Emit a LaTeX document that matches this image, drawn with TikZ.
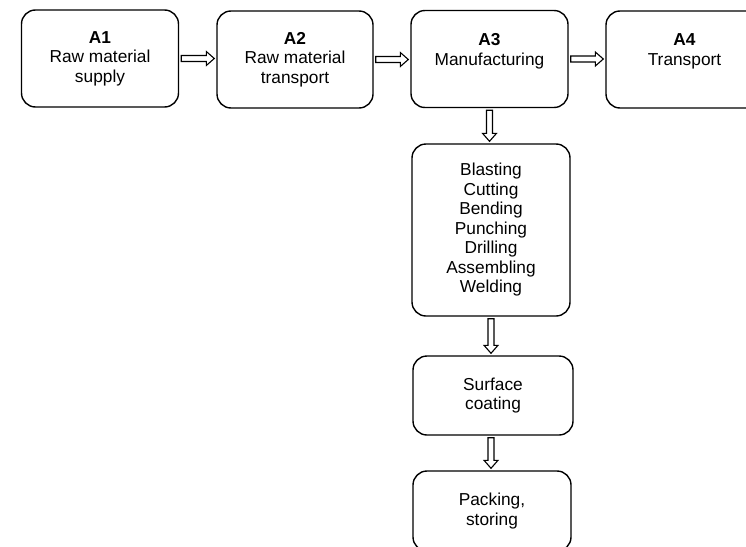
\documentclass[tikz,border=0pt]{standalone}
\usepackage{fontspec}
\setmainfont{Liberation Sans}
\usetikzlibrary{calc,positioning}

\tikzset{
  stage/.style={draw,line width=1.4pt,rounded corners=14pt,align=center,
    minimum width=157pt,minimum height=97pt,
    font=\fontsize{17.3}{19.5}\selectfont},
  % hollow block arrow between two anchors
  flow/.style={line width=1.1pt,line join=miter,to path={
    ($(\tikztostart)!2pt!(\tikztotarget)$) coordinate (fs)
    ($(\tikztotarget)!2pt!(\tikztostart)$) coordinate (ft)
    ($(ft)!8pt!(fs)$) coordinate (hb)
    ($(fs)!3pt!90:(ft)$) -- ($(hb)!3pt!-90:(fs)$) -- ($(hb)!7pt!-90:(fs)$)
    -- (ft) -- ($(hb)!7pt!90:(fs)$) -- ($(hb)!3pt!90:(fs)$)
    -- ($(fs)!3pt!-90:(ft)$) -- cycle}}
}

\begin{document}
\begin{tikzpicture}[x=1pt,y=-1pt]
  \useasboundingbox (0,0) rectangle (746,546);
  \clip (0,0) rectangle (746,546);

  % life cycle stages
  \node[stage] (a1) at (100,58.5) {\textbf{A1}\\Raw material\\supply};
  \node[stage,minimum width=156pt] (a2) at (295,59.5) {\textbf{A2}\\Raw material\\transport};
  \node[stage] (a3) at (489.5,59) {\textbf{A3}\\Manufacturing\\~};
  \node[stage] (a4) at (684.5,59.5) {\textbf{A4}\\Transport\\~};

  % manufacturing steps
  \node[stage,minimum width=158pt,minimum height=172pt] (proc) at (491,230)
    {Blasting\\Cutting\\Bending\\Punching\\Drilling\\Assembling\\Welding};
  \node[stage,minimum width=160pt,minimum height=79pt] (coat) at (493,395.5)
    {Surface\\coating};
  \node[stage,minimum width=158pt,minimum height=80pt] (pack) at (492,511)
    {Packing,\\storing};

  \draw[flow] (a1.east) to (a1.east -| a2.west);
  \draw[flow] (a2.east) to (a2.east -| a3.west);
  \draw[flow] (a3.east) to (a3.east -| a4.west);

  \draw[flow] (a3.south) to (a3.south |- proc.north);
  \draw[flow] (proc.south) to (proc.south |- coat.north);
  \draw[flow] (proc.south |- coat.south) to (proc.south |- pack.north);
\end{tikzpicture}
\end{document}
